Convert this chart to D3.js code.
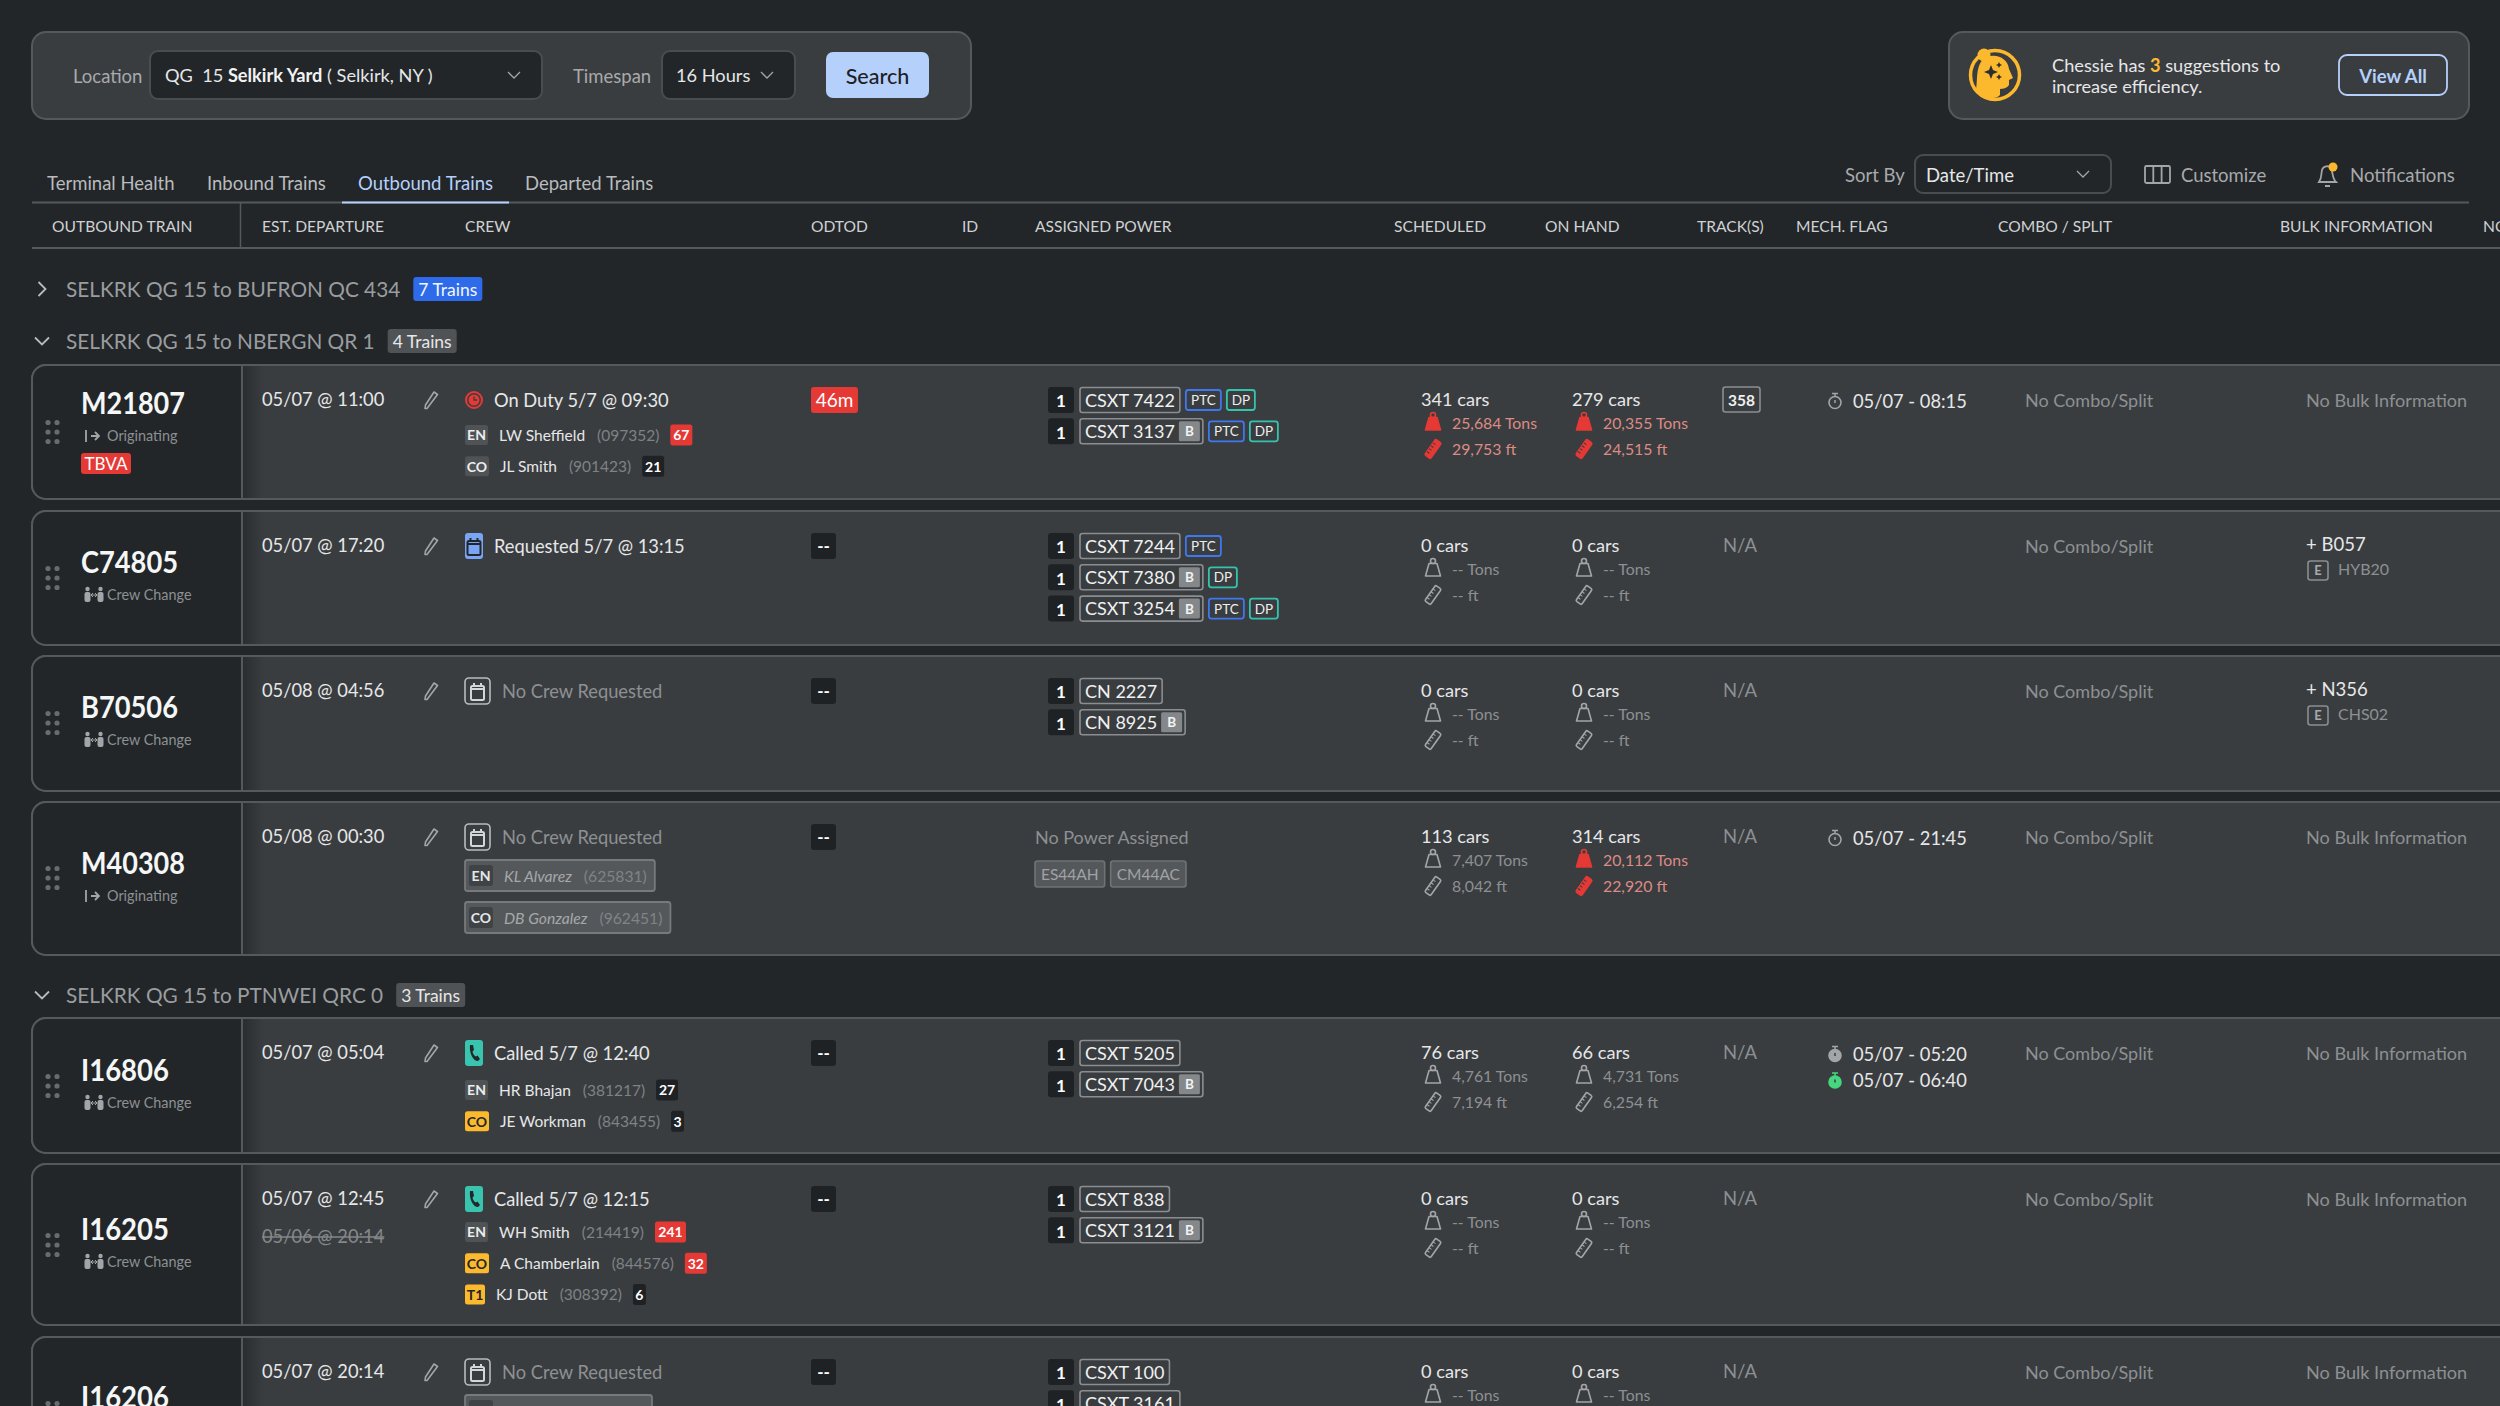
<!DOCTYPE html>
<html>
<head>
<meta charset="utf-8">
<script src="https://cdn.jsdelivr.net/npm/d3@7"></script>
<style>
html, body { margin: 0; background: #222629; overflow: hidden; }
text { font-family: Lato, sans-serif; }
</style>
</head>
<body>
<div id="chart"></div>
<script>
// ---- data
const tabLabels = ["Terminal Health", "Inbound Trains", "Outbound Trains", "Departed Trains"]
const activeTab = "Outbound Trains"
const columnLabels = ["OUTBOUND TRAIN", "EST. DEPARTURE", "CREW", "ODTOD", "ID", "ASSIGNED POWER", "SCHEDULED", "ON HAND", "TRACK(S)", "MECH. FLAG", "COMBO / SPLIT", "BULK INFORMATION", "NOTES"]

const groupTitles = ["SELKRK QG 15 to BUFRON QC 434", "SELKRK QG 15 to NBERGN QR 1", "SELKRK QG 15 to PTNWEI QRC 0"]
const groupCounts = ["7 Trains", "4 Trains", "3 Trains"]
const groupOpen = [false, true, true]

const trainIds = ["M21807", "C74805", "B70506", "M40308", "I16806", "I16205", "I16206"]
const trainKinds = ["Originating", "Crew Change", "Crew Change", "Originating", "Crew Change", "Crew Change", "Crew Change"]
const trainFlags = ["TBVA", null, null, null, null, null, null]
const estDepartures = ["05/07 @ 11:00", "05/07 @ 17:20", "05/08 @ 04:56", "05/08 @ 00:30", "05/07 @ 05:04", "05/07 @ 12:45", "05/07 @ 20:14"]
const oldDepartures = [null, null, null, null, null, "05/06 @ 20:14", null]
const crewStatusKind = ["duty", "requested", "none", "none", "called", "called", "none"]
const crewStatusText = ["On Duty 5/7 @ 09:30", "Requested 5/7 @ 13:15", "No Crew Requested", "No Crew Requested", "Called 5/7 @ 12:40", "Called 5/7 @ 12:15", "No Crew Requested"]
const crewMembers = [
  [["EN", "LW Sheffield", "(097352)", "67", true], ["CO", "JL Smith", "(901423)", "21", false]],
  [],
  [],
  [],
  [["EN", "HR Bhajan", "(381217)", "27", false], ["CO", "JE Workman", "(843455)", "3", false]],
  [["EN", "WH Smith", "(214419)", "241", true], ["CO", "A Chamberlain", "(844576)", "32", true], ["T1", "KJ Dott", "(308392)", "6", false]],
  []
]
const proposedCrew = [
  [], [], [],
  [["EN", "KL Alvarez", "(625831)"], ["CO", "DB Gonzalez", "(962451)"]],
  [], [],
  [["", "", ""]]
]
const odtodValues = ["46m", "--", "--", "--", "--", "--", "--"]
const powerUnits = [
  [["CSXT 7422", "PTC", "DP"], ["CSXT 3137", "B", "PTC", "DP"]],
  [["CSXT 7244", "PTC"], ["CSXT 7380", "B", "DP"], ["CSXT 3254", "B", "PTC", "DP"]],
  [["CN 2227"], ["CN 8925", "B"]],
  [],
  [["CSXT 5205"], ["CSXT 7043", "B"]],
  [["CSXT 838"], ["CSXT 3121", "B"]],
  [["CSXT 100"], ["CSXT 3161"]]
]
const plannedPower = [[], [], [], ["ES44AH", "CM44AC"], [], [], []]
const scheduledCars = [341, 0, 0, 113, 76, 0, 0]
const scheduledTons = [25684, null, null, 7407, 4761, null, null]
const scheduledFeet = [29753, null, null, 8042, 7194, null, null]
const scheduledOver = [true, false, false, false, false, false, false]
const onHandCars = [279, 0, 0, 314, 66, 0, 0]
const onHandTons = [20355, null, null, 20112, 4731, null, null]
const onHandFeet = [24515, null, null, 22920, 6254, null, null]
const onHandOver = [true, false, false, true, false, false, false]
const trackNames = ["358", null, null, null, null, null, null]
const mechFlags = [
  [["05/07 - 08:15", "plain"]], [], [], [["05/07 - 21:45", "plain"]],
  [["05/07 - 05:20", "grey"], ["05/07 - 06:40", "green"]], [], []
]
const bulkCodes = [null, "+ B057", "+ N356", null, null, null, null]
const bulkSubs = [null, "HYB20", "CHS02", null, null, null, null]

// ---- layout, separate from the values above
const W = 2500, H = 1406
const cBg = "#222629", cPanel = "#3a3d40", cLine = "#56595c", cText = "#e6e7e8", cMute = "#8d9092", cRed = "#e53935", cAmber = "#fdb92e", cBlue = "#b5d0fb"

const colX = d3.scaleOrdinal().domain(columnLabels)
  .range([52, 262, 465, 811, 962, 1035, 1394, 1545, 1697, 1796, 1998, 2280, 2483])
const tabX = d3.scaleOrdinal().domain(tabLabels).range([47, 207, 358, 525])
const groupY = d3.scaleOrdinal().domain(groupTitles).range([289, 341, 995])
const cardTop = d3.scaleOrdinal().domain(trainIds).range([365, 511, 656, 802, 1018, 1164, 1337])
const cardBottom = d3.scaleOrdinal().domain(trainIds).range([499, 645, 791, 955, 1153, 1325, 1500])
const idOffset = d3.scaleOrdinal().domain(trainIds).range([38, 51, 51, 61, 52, 65, 60])
const dotOffset = d3.scaleOrdinal().domain(trainIds).range([67, 67, 67, 76, 68, 81, 76])
const crewOffset = d3.scaleOrdinal().domain(trainIds).range([70, 70, 70, 70, 72, 68, 70])
const rowStep = d3.scaleLinear().domain([0, 1]).range([0, 31.3])

let svg = d3.select("#chart").append("svg")
  .attr("width", W).attr("height", H)
  .style("display", "block")

svg.append("rect").attr("width", W).attr("height", H).attr("fill", cBg)

let defs = svg.append("defs")
let shade = defs.append("linearGradient").attr("id", "leftShade")
shade.append("stop").attr("offset", 0).attr("stop-color", "#2a2d30")
shade.append("stop").attr("offset", 1).attr("stop-color", cPanel)

function label(g, x, y, str, size, color, opts) {
  opts = opts || {}
  return g.append("text")
    .attr("x", x).attr("y", y).attr("dy", "0.38em")
    .attr("font-size", size)
    .attr("fill", color)
    .attr("font-weight", opts.weight || 400)
    .attr("font-style", opts.italic ? "italic" : "normal")
    .attr("text-anchor", opts.anchor || "start")
    .text(str)
}

function box(g, x, y, w, h, r, fill, stroke, sw) {
  return g.append("rect")
    .attr("x", x).attr("y", y).attr("width", w).attr("height", h).attr("rx", r)
    .attr("fill", fill || "none")
    .attr("stroke", stroke || "none")
    .attr("stroke-width", sw || 1.5)
}

function width(t) {
  return t.node().getComputedTextLength()
}

function chevron(g, x, y, dir, color, size, sw) {
  let s = size || 6
  let d = dir == "right" ? `M${x - s / 2},${y - s} L${x + s / 2},${y} L${x - s / 2},${y + s}`
    : `M${x - s},${y - s / 2} L${x},${y + s / 2} L${x + s},${y - s / 2}`
  g.append("path").attr("d", d).attr("fill", "none").attr("stroke", color).attr("stroke-width", sw || 1.8)
}

function selectBox(g, x, y, w, h) {
  box(g, x, y, w, h, 8, cBg, "#4a4d50", 2)
  chevron(g, x + w - 28, y + h / 2, "down", "#a3a5a7", 6, 1.3)
}

// weight icon, outline or solid red
function weight(g, x, y, hot) {
  let c = hot ? cRed : "#a3a5a7"
  g.append("circle").attr("cx", x).attr("cy", y - 8).attr("r", 2.5)
    .attr("fill", "none").attr("stroke", c).attr("stroke-width", 1.6)
  g.append("path").attr("d", `M${x - 4},${y - 5.5} L${x + 4},${y - 5.5} L${x + 7.5},${y + 7} L${x - 7.5},${y + 7} Z`)
    .attr("fill", hot ? c : "none").attr("stroke", c).attr("stroke-width", 1.6).attr("stroke-linejoin", "round")
}

function ruler(g, x, y, hot) {
  let c = hot ? cRed : "#a3a5a7"
  g.append("rect").attr("x", x - 3.5).attr("y", y - 9.5).attr("width", 7).attr("height", 19).attr("rx", 1.5)
    .attr("transform", `rotate(35 ${x} ${y})`)
    .attr("fill", hot ? c : "none").attr("stroke", c).attr("stroke-width", 1.6)
  g.append("path").attr("d", `M${x - 3.5},${y - 5} h3 M${x - 3.5},${y - 1.5} h3 M${x - 3.5},${y + 2} h3 M${x - 3.5},${y + 5.5} h3`)
    .attr("transform", `rotate(35 ${x} ${y})`)
    .attr("stroke", hot ? "#3a3d40" : c).attr("stroke-width", 1)
}

function timer(g, x, y, tone) {
  let c = tone == "green" ? "#46d67f" : "#a3a5a7"
  g.append("circle").attr("cx", x).attr("cy", y + 1.5).attr("r", 6)
    .attr("fill", tone == "plain" ? "none" : c).attr("stroke", c).attr("stroke-width", 1.6)
  g.append("path").attr("d", `M${x},${y - 1} V${y + 2}`)
    .attr("stroke", tone == "plain" ? c : "#3a3d40").attr("stroke-width", 1.5)
  g.append("path").attr("d", `M${x - 3},${y - 7.5} H${x + 3} M${x},${y - 7.5} V${y - 4}`)
    .attr("stroke", c).attr("stroke-width", 1.5)
}

function pencil(g, x, y) {
  g.append("path")
    .attr("d", `M${x - 4},${y + 8.5} L${x - 6},${y + 8.5} L${x - 5.5},${y + 5} L${x + 3},${y - 8} L${x + 6.5},${y - 5.5} Z`)
    .attr("fill", "none").attr("stroke", "#a3a5a7").attr("stroke-width", 1.6).attr("stroke-linejoin", "round")
}

function calendarGlyph(g, x, y, color) {
  g.append("rect").attr("x", x - 6.5).attr("y", y - 6).attr("width", 13).attr("height", 14).attr("rx", 1.5)
    .attr("fill", "none").attr("stroke", color).attr("stroke-width", 2)
  g.append("path").attr("d", `M${x - 3.5},${y - 9} V${y - 5} M${x + 3.5},${y - 9} V${y - 5} M${x - 6.5},${y - 3} H${x + 6.5}`)
    .attr("stroke", color).attr("stroke-width", 2)
}

function statusIcon(g, kind, y) {
  let x = colX("CREW")
  if (kind == "duty") {
    g.append("circle").attr("cx", x + 9).attr("cy", y).attr("r", 8)
      .attr("fill", "none").attr("stroke", cRed).attr("stroke-width", 2)
    g.append("circle").attr("cx", x + 9).attr("cy", y).attr("r", 5.5).attr("fill", cRed)
    g.append("path").attr("d", `M${x + 9},${y - 3.5} V${y} H${x + 12}`).attr("fill", "none").attr("stroke", "#3a3d40").attr("stroke-width", 1.3)
  } else if (kind == "requested") {
    box(g, x, y - 13, 18, 26, 3, "#7aa5f5")
    calendarGlyph(g, x + 9, y + 1, "#23272a")
  } else if (kind == "called") {
    box(g, x, y - 13, 18, 26, 3, "#38c4ae")
    g.append("path")
      .attr("d", `M${x + 5},${y - 8} L${x + 8},${y - 8} L${x + 9},${y - 3} L${x + 7.5},${y - 1.5} C${x + 8},${y + 1} ${x + 9},${y + 2.5} ${x + 11},${y + 3.5} L${x + 12.5},${y + 2.5} L${x + 15},${y + 6} L${x + 13},${y + 8} C${x + 8},${y + 8} ${x + 4},${y} ${x + 5},${y - 8} Z`)
      .attr("fill", "#23272a")
  } else {
    box(g, x, y - 13, 25, 26, 4, "none", "#b9bbbd", 1.6)
    calendarGlyph(g, x + 12.5, y + 1, "#d5d6d7")
  }
}

function originIcon(g, x, y, kind) {
  let c = "#a3a5a7"
  if (kind == "Originating") {
    g.append("path").attr("d", `M${x + 1},${y - 6} V${y + 6} M${x + 6},${y} H${x + 14} M${x + 10},${y - 4} L${x + 14},${y} L${x + 10},${y + 4}`)
      .attr("fill", "none").attr("stroke", c).attr("stroke-width", 1.8)
  } else {
    ;[x + 2.5, x + 15.5].forEach(px => {
      g.append("circle").attr("cx", px).attr("cy", y - 6).attr("r", 2.2).attr("fill", c)
      g.append("rect").attr("x", px - 3).attr("y", y - 3).attr("width", 6).attr("height", 10).attr("rx", 2).attr("fill", c)
    })
    g.append("path").attr("d", `M${x + 6.5},${y} H${x + 11.5} M${x + 8},${y - 2} L${x + 6},${y} L${x + 8},${y + 2} M${x + 10},${y - 2} L${x + 12},${y} L${x + 10},${y + 2}`)
      .attr("fill", "none").attr("stroke", c).attr("stroke-width", 1)
  }
}

// ---- top bar
let topBar = svg.append("g")
box(topBar, 32, 32, 939, 87, 14, cPanel, cLine, 2)
label(topBar, 73, 75.5, "Location", 18.5, "#a8aaac")
selectBox(topBar, 150, 51, 392, 48)
let loc = label(topBar, 165, 75.5, "QG  15 ", 18.2, cText).attr("xml:space", "preserve")
loc.append("tspan").attr("font-weight", 700).attr("fill", "#f2f3f3").text("Selkirk Yard")
loc.append("tspan").text(" ( Selkirk, NY )")
label(topBar, 573, 75.5, "Timespan", 18.5, "#a8aaac")
selectBox(topBar, 662, 51, 133, 48)
label(topBar, 676, 75.5, "16 Hours", 18.2, cText)
box(topBar, 826, 52, 103, 46, 7, cBlue)
label(topBar, 877.5, 75.5, "Search", 21.5, "#1d2124", { anchor: "middle", weight: 500 })

// chessie suggestion
let tip = svg.append("g")
box(tip, 1949, 32, 520, 87, 14, cPanel, cLine, 2)
let bust = tip.append("g").attr("transform", "translate(1995,75)")
bust.append("circle").attr("r", 24.5).attr("fill", "none").attr("stroke", cAmber).attr("stroke-width", 3.5)
bust.append("circle").attr("cx", -11).attr("cy", -20).attr("r", 6.5).attr("fill", cAmber)
bust.append("path").attr("d", "M-19,15 C-17,4 -20,-13 -8,-18 C2,-22 13,-16 14,-6 L18,3 L14,5 L14,10 C12,13 8,14 5,14 L5,20 C0,25 -12,25 -19,15Z").attr("fill", cAmber)
bust.append("path").attr("d", "M-4,-10 L-2,-5 L3,-3 L-2,-1 L-4,4 L-6,-1 L-11,-3 L-6,-5 Z M4,-13 L5,-11 L7,-10 L5,-9 L4,-7 L3,-9 L1,-10 L3,-11 Z M4,-1 L5,1 L7,2 L5,3 L4,5 L3,3 L1,2 L3,1 Z").attr("fill", "#2c2f32")
let tipText = label(tip, 2052, 65.5, "Chessie has ", 18.2, cText)
tipText.append("tspan").attr("fill", cAmber).attr("font-weight", 700).text("3")
tipText.append("tspan").text(" suggestions to")
label(tip, 2052, 86, "increase efficiency.", 18.2, cText)
box(tip, 2339, 55, 108, 40, 8, "none", cBlue, 1.8)
label(tip, 2393, 75.5, "View All", 18.5, cBlue, { anchor: "middle", weight: 700 })

// ---- tabs
let tabs = svg.append("g")
tabs.selectAll("text").data(tabLabels).enter().append("text")
  .attr("x", d => tabX(d)).attr("y", 183).attr("dy", "0.38em")
  .attr("font-size", 18.5)
  .attr("fill", d => d == activeTab ? cBlue : "#b9bbbd")
  .text(d => d)
tabs.append("line").attr("x1", 32).attr("x2", 2469).attr("y1", 202.5).attr("y2", 202.5).attr("stroke", cLine).attr("stroke-width", 2)
tabs.append("line").attr("x1", 342).attr("x2", 509).attr("y1", 202.5).attr("y2", 202.5).attr("stroke", cBlue).attr("stroke-width", 2)

label(tabs, 1845, 175, "Sort By", 18.5, "#a8aaac")
selectBox(tabs, 1915, 155, 196, 38)
label(tabs, 1926, 175, "Date/Time", 18.5, cText)
// customize
box(tabs, 2145, 166, 25, 17, 1.5, "none", "#a3a5a7", 1.8)
tabs.append("path").attr("d", "M2153.3,166 V183 M2161.6,166 V183").attr("stroke", "#a3a5a7").attr("stroke-width", 1.8)
label(tabs, 2181, 175, "Customize", 18.5, "#a8aaac")
// bell
tabs.append("path").attr("d", "M2319,182 C2322,178 2321,174 2322,170 C2323,166 2329,165 2331,168 C2333,172 2332,178 2336,182 Z").attr("fill", "none").attr("stroke", "#a3a5a7").attr("stroke-width", 1.8)
tabs.append("path").attr("d", "M2325,186 H2330").attr("stroke", "#a3a5a7").attr("stroke-width", 2)
tabs.append("circle").attr("cx", 2333).attr("cy", 167).attr("r", 4.5).attr("fill", cAmber)
label(tabs, 2350, 175, "Notifications", 18.6, "#a8aaac")

// ---- column headers
let heads = svg.append("g")
heads.selectAll("text").data(columnLabels).enter().append("text")
  .attr("x", d => colX(d)).attr("y", 226).attr("dy", "0.38em")
  .attr("font-size", 15.6)
  .attr("fill", "#cfd1d2")
  .text(d => d)
heads.append("line").attr("x1", 32).attr("x2", W).attr("y1", 248).attr("y2", 248).attr("stroke", cLine).attr("stroke-width", 2)
heads.append("line").attr("x1", 240.5).attr("x2", 240.5).attr("y1", 203).attr("y2", 248).attr("stroke", cLine).attr("stroke-width", 1.5)

// ---- group headings
groupTitles.forEach((title, i) => {
  let g = svg.append("g")
  let y = groupY(title)
  chevron(g, 42, y, groupOpen[i] ? "down" : "right", "#b9bbbd", 7)
  let t = label(g, 66, y, title, 20.8, "#9a9d9f")
  let x = 66 + width(t) + 13
  let isBlue = !groupOpen[i]
  box(g, x, y - 12, 69, 24, 3, isBlue ? "#2e6bea" : "#505356")
  label(g, x + 34.5, y, groupCounts[i], 17.5, isBlue ? "#f4f6fb" : "#e6e7e8", { anchor: "middle" })
})

// ---- train cards
let cards = svg.selectAll("g.card").data(trainIds).enter().append("g")
  .attr("class", "card")
  .attr("transform", d => `translate(0,${cardTop(d)})`)

cards.each(function (id, i) {
  let g = d3.select(this)
  let h = cardBottom(id) - cardTop(id)

  box(g, 32, 0, W, h, 14, cPanel, cLine, 2)
  g.append("rect").attr("x", 242).attr("y", 1).attr("width", 22).attr("height", h - 2).attr("fill", "url(#leftShade)")
  g.append("path")
    .attr("d", `M242,0 H46 A14,14 0 0 0 32,14 V${h - 14} A14,14 0 0 0 46,${h} H242 Z`)
    .attr("fill", cBg).attr("stroke", cLine).attr("stroke-width", 2)

  // grip
  let dy = dotOffset(id)
  d3.range(3).forEach(r => [48, 57].forEach(dx => {
    g.append("circle").attr("cx", dx).attr("cy", dy + (r - 1) * 9.5).attr("r", 2.6).attr("fill", "#696c6e")
  }))

  // train column
  let iy = idOffset(id)
  g.append("text").attr("x", 81).attr("y", iy).attr("dy", "0.36em")
    .attr("font-family", "Roboto").attr("font-weight", 700).attr("font-size", 31)
    .attr("fill", "#f5f6f6")
    .attr("textLength", id[0] == "I" ? 88 : id[0] == "M" ? 104 : 97)
    .attr("lengthAdjust", "spacingAndGlyphs")
    .text(id)
  originIcon(g, 85, iy + 33, trainKinds[i])
  label(g, 107, iy + 33, trainKinds[i], 14.4, "#8d9092")
  if (trainFlags[i]) {
    box(g, 81, iy + 50, 50, 21, 3, cRed)
    label(g, 106, iy + 60.5, trainFlags[i], 17, "#fff", { anchor: "middle" })
  }

  // departure
  label(g, colX("EST. DEPARTURE"), 34.5, estDepartures[i], 18.3, cText)
  if (oldDepartures[i]) {
    let t = label(g, colX("EST. DEPARTURE"), 72, oldDepartures[i], 18.3, "#85888a")
    g.append("line").attr("x1", colX("EST. DEPARTURE")).attr("x2", colX("EST. DEPARTURE") + width(t))
      .attr("y1", 73).attr("y2", 73).attr("stroke", "#85888a").attr("stroke-width", 1.5)
  }
  pencil(g, 431, 35)

  // crew
  let crewX = colX("CREW")
  let none = crewStatusKind[i] == "none"
  statusIcon(g, crewStatusKind[i], 35)
  label(g, crewX + (none ? 37 : 29), 35, crewStatusText[i], 18.3, none ? cMute : cText)

  crewMembers[i].forEach((m, r) => {
    let y = crewOffset(id) + rowStep(r)
    let amber = m[0] != "EN" && i > 3
    let rw = m[0] == "EN" ? 23 : m[0] == "T1" ? 20 : 24
    box(g, crewX, y - 10, rw, 20, 2.5, amber ? cAmber : "#505356")
    label(g, crewX + rw / 2, y, m[0], 14, amber ? "#23272a" : "#eceded", { anchor: "middle", weight: 700 })
    let a = label(g, crewX + rw + 11, y, m[1], 15.5, cText)
    let bx = crewX + rw + 11 + width(a) + 12
    let b = label(g, bx, y, m[2], 15.5, "#7f8285")
    let cx = bx + width(b) + 11
    let cw = Math.max(13, m[3].length * 9 + 4)
    box(g, cx, y - 10.5, cw, 21, 2.5, m[4] ? cRed : "#1f2225")
    label(g, cx + cw / 2, y, m[3], 14, "#fff", { anchor: "middle", weight: 700 })
  })

  proposedCrew[i].forEach((m, r) => {
    let y = 58 + r * 42
    let chip = g.append("g")
    let outer = box(chip, crewX, y, 187, 31, 2.5, "#55585b", "#77797b", 1.8)
    box(chip, crewX + 4, y + 5, 24, 21, 2.5, "#404346")
    label(chip, crewX + 16, y + 15.5, m[0], 14, "#e6e7e8", { anchor: "middle", weight: 700 })
    if (m[1]) {
      let a = label(chip, crewX + 39, y + 16, m[1], 15.7, "#a6a8aa", { italic: true })
      let b = label(chip, crewX + 39 + width(a) + 12, y + 16, m[2], 15.7, "#808386")
      outer.attr("width", 39 + width(a) + 12 + width(b) + 8)
    }
  })

  // odtod
  let odtod = odtodValues[i]
  let hot = odtod != "--"
  box(g, colX("ODTOD"), 22, hot ? 47 : 25, 26, 3, hot ? cRed : "#1f2225")
  label(g, colX("ODTOD") + (hot ? 23.5 : 12.5), 34.5, odtod, hot ? 19 : 17, "#fff", { anchor: "middle", weight: hot ? 400 : 700 })

  // power
  powerUnits[i].forEach((unit, r) => {
    let y = 35 + rowStep(r)
    box(g, 1048, y - 13, 26, 26, 3, "#1f2225")
    label(g, 1061, y + 1, "1", 17, "#fff", { anchor: "middle", weight: 700 })
    let t = label(g, 1085, y, unit[0], 18, "#f0f1f1")
    let w = width(t) + 10
    let tags = unit.slice(1)
    let hasB = tags[0] == "B"
    let full = w + (hasB ? 23 : 0)
    box(g, 1080, y - 12.5, full, 25, 2.5, "none", "#8b8e90", 1.6)
    if (hasB) {
      box(g, 1080 + w - 1, y - 10, 21, 20, 1.5, "#85888a")
      label(g, 1080 + w + 9.5, y, "B", 13.5, "#f2f3f3", { anchor: "middle", weight: 700 })
    }
    let tx = 1080 + full + 6
    tags.filter(d => d != "B").forEach(tag => {
      let tw = tag == "PTC" ? 35 : 28
      box(g, tx, y - 10, tw, 20, 2.5, "none", tag == "PTC" ? "#3f78ee" : "#36c3ad", 1.8)
      label(g, tx + tw / 2, y, tag, 13.5, "#eceded", { anchor: "middle" })
      tx += tw + 6
    })
  })
  if (powerUnits[i].length == 0) {
    label(g, colX("ASSIGNED POWER"), 35, "No Power Assigned", 18, cMute)
    let cx = colX("ASSIGNED POWER")
    plannedPower[i].forEach(p => {
      let chip = g.append("g")
      let t = label(chip, cx + 6, 72, p, 15.5, "#a0a2a4")
      let w = width(t) + 12
      box(chip, cx, 59, w, 26, 2.5, "#55585b", "#707274", 1.6).lower()
      cx += w + 6
    })
  }

  // scheduled and on hand
  let nf = d3.format(",")
  ;[[1421, scheduledCars, scheduledTons, scheduledFeet, scheduledOver],
    [1572, onHandCars, onHandTons, onHandFeet, onHandOver]].forEach(s => {
    let x = s[0], over = s[4][i]
    label(g, x, 34, s[1][i] + " cars", 18.2, cText)
    weight(g, x + 12, 58, over)
    ruler(g, x + 12, 84, over)
    let c = over ? "#dd8b84" : "#8d9092"
    label(g, x + 31, 58, (s[2][i] == null ? "--" : nf(s[2][i])) + " Tons", 15.8, c)
    label(g, x + 31, 84, (s[3][i] == null ? "--" : nf(s[3][i])) + " ft", 15.8, c)
  })

  // tracks
  if (trackNames[i]) {
    box(g, 1723, 22, 37, 25, 2.5, "none", "#8b8e90", 1.6)
    label(g, 1741.5, 35, trackNames[i], 15.5, "#f0f1f1", { anchor: "middle", weight: 700 })
  } else {
    label(g, 1723, 34, "N/A", 18.5, cMute)
  }

  // mech flag
  mechFlags[i].forEach((f, r) => {
    let y = 36 + r * 26.5
    timer(g, 1835, y, f[1])
    label(g, 1853, y, f[0], 18.3, cText)
  })

  // combo
  label(g, 2025, 35, "No Combo/Split", 18, cMute)

  // bulk
  if (bulkCodes[i]) {
    label(g, 2306, 33, bulkCodes[i], 18.5, cText)
    box(g, 2308, 50, 20, 19, 2.5, "none", "#8b8e90", 1.6)
    label(g, 2318, 59.5, "E", 13, "#a8aaac", { anchor: "middle", weight: 700 })
    label(g, 2338, 58, bulkSubs[i], 16, cMute)
  } else {
    label(g, 2306, 35, "No Bulk Information", 18.1, cMute)
  }
})

// the last card runs past the fold, as in the screenshot
svg.selectAll("text").filter(function () {
  return this.getBoundingClientRect().top > H
}).remove()
</script>
</body>
</html>
